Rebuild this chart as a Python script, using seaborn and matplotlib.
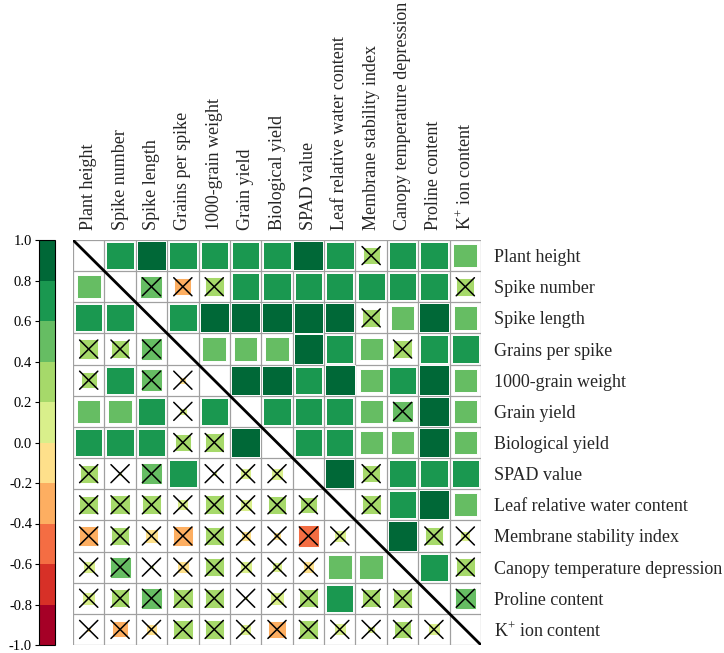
import numpy as np
import pandas as pd
import matplotlib
matplotlib.use("Agg")
import matplotlib.pyplot as plt
import seaborn as sns
from matplotlib.colors import ListedColormap, BoundaryNorm
from matplotlib.patches import Rectangle

# nomes das variáveis
labels = ["Plant height", "Spike number", "Spike length", "Grains per spike",
          "1000-grain weight", "Grain yield", "Biological yield", "SPAD value",
          "Leaf relative water content", "Membrane stability index",
          "Canopy temperature depression", "Proline content", "K$^{+}$ ion content"]

nan = np.nan
# correlações (linha = variável da esquerda/direita)
r0 = [nan, .76, .89, .77, .75, .76, .76, .90, .77, .30, .76, .75, .57]
r1 = [.57, nan, .49, -.29, .37, .75, .76, .76, .76, .74, .75, .76, .34]
r2 = [.76, .75, nan, .76, .88, .88, .88, .89, .88, .32, .56, .88, .56]
r3 = [.38, .36, .48, nan, .57, .55, .55, .88, .76, .53, .35, .77, .77]
r4 = [.25, .75, .48, -.05, nan, .88, .88, .76, .89, .55, .76, .89, .55]
r5 = [.56, .55, .76, .06, .76, nan, .76, .76, .76, .55, .48, .89, .55]
r6 = [.76, .76, .76, .28, .36, .89, nan, .76, .76, .55, .55, .89, .55]
r7 = [.33, .02, .46, .76, .03, .12, .15, nan, .88, .32, .76, .76, .76]
r8 = [.35, .38, .36, .12, .36, .15, .32, .28, nan, .36, .76, .88, .56]
r9 = [-.38, .34, -.18, -.39, .36, -.10, -.06, -.47, .15, nan, .88, .36, .10]
r10 = [.15, .45, .02, -.16, .36, .15, .10, -.14, .56, .56, nan, .76, .36]
r11 = [.18, .34, .47, .38, .36, .02, .18, .34, .75, .34, .38, nan, .46]
r12 = [-.02, -.26, -.12, .38, .38, .12, -.30, .34, .15, .06, .30, .15, nan]

# significância (0 = não significativo, marcado com X)
s0 = [0, 1, 1, 1, 1, 1, 1, 1, 1, 0, 1, 1, 1]
s1 = [1, 0, 0, 0, 0, 1, 1, 1, 1, 1, 1, 1, 0]
s2 = [1, 1, 0, 1, 1, 1, 1, 1, 1, 0, 1, 1, 1]
s3 = [0, 0, 0, 0, 1, 1, 1, 1, 1, 1, 0, 1, 1]
s4 = [0, 1, 0, 0, 0, 1, 1, 1, 1, 1, 1, 1, 1]
s5 = [1, 1, 1, 0, 1, 0, 1, 1, 1, 1, 0, 1, 1]
s6 = [1, 1, 1, 0, 0, 1, 0, 1, 1, 1, 1, 1, 1]
s7 = [0, 0, 0, 1, 0, 0, 0, 0, 1, 0, 1, 1, 1]
s8 = [0, 0, 0, 0, 0, 0, 0, 0, 0, 0, 1, 1, 1]
s9 = [0, 0, 0, 0, 0, 0, 0, 0, 0, 0, 1, 0, 0]
s10 = [0, 0, 0, 0, 0, 0, 0, 0, 1, 1, 0, 1, 0]
s11 = [0, 0, 0, 0, 0, 0, 0, 0, 1, 0, 0, 0, 0]
s12 = [0, 0, 0, 0, 0, 0, 0, 0, 0, 0, 0, 0, 0]

corr = pd.DataFrame([r0, r1, r2, r3, r4, r5, r6, r7, r8, r9, r10, r11, r12],
                    index=labels, columns=labels)
sig = np.array([s0, s1, s2, s3, s4, s5, s6, s7, s8, s9, s10, s11, s12])

sns.set_style("white")
plt.rcParams["font.family"] = ["Liberation Serif", "DejaVu Serif"]
plt.rcParams["mathtext.fontset"] = "custom"
plt.rcParams["mathtext.rm"] = "Liberation Serif"
plt.rcParams["axes.unicode_minus"] = False

cores = ["#a50026", "#d73027", "#f46d43", "#fdae61", "#fee08b",
         "#d9ef8b", "#a6d96a", "#66bd63", "#1a9850", "#006837"]
cmap = ListedColormap(cores)
norm = BoundaryNorm(np.linspace(-1, 1, 11), cmap.N)

W, H = 724, 653
fig = plt.figure(figsize=(W / 100, H / 100), dpi=100)
ax = fig.add_axes([73 / W, 1 - 645 / H, 408 / W, 405 / H])
cax = fig.add_axes([39 / W, 1 - 645 / H, 16 / W, 405 / H])

n = len(labels)
# heatmap só para eixos e barra de cores (células mascaradas)
sns.heatmap(corr, mask=np.ones((n, n), dtype=bool), cmap=cmap, norm=norm,
            vmin=-1, vmax=1, ax=ax, cbar_ax=cax, xticklabels=labels,
            yticklabels=labels)

# grade cinza
for k in range(n + 1):
    ax.axhline(k, color="#a0a0a0", lw=0.9, zorder=1)
    ax.axvline(k, color="#a0a0a0", lw=0.9, zorder=1)

# quadrados proporcionais a |r| (lado = sqrt|r|) e X para não significativos
vals = corr.values
for i in range(n):
    for j in range(n):
        v = vals[i, j]
        if np.isnan(v):
            continue
        lado = np.sqrt(abs(v))
        ax.add_patch(Rectangle((j + 0.5 - lado / 2, i + 0.5 - lado / 2), lado, lado,
                               facecolor=cmap(norm(v)), edgecolor="white",
                               lw=0.7, zorder=2))
        if not sig[i, j]:
            d = 0.29
            ax.plot([j + 0.5 - d, j + 0.5 + d], [i + 0.5 - d, i + 0.5 + d],
                    color="black", lw=1.1, zorder=3)
            ax.plot([j + 0.5 - d, j + 0.5 + d], [i + 0.5 + d, i + 0.5 - d],
                    color="black", lw=1.1, zorder=3)

# diagonal
ax.plot([0, n], [0, n], color="black", lw=2, zorder=4, solid_capstyle="butt")
ax.set_xlim(0, n)
ax.set_ylim(n, 0)

ax.xaxis.tick_top()
ax.yaxis.tick_right()
ax.tick_params(axis="x", length=0, pad=7, labelsize=13, rotation=90)
ax.tick_params(axis="y", length=0, pad=9, labelsize=13, rotation=0)
for lab in ax.get_yticklabels():
    lab.set_ha("left")
for s in ax.spines.values():
    s.set_visible(False)

# barra de cores
cax.yaxis.set_ticks_position("left")
cax.set_yticks(np.round(np.linspace(-1, 1, 11), 1))
cax.set_yticklabels([f"{t:.1f}" for t in np.linspace(-1, 1, 11)])
cax.tick_params(axis="y", length=3, width=0.8, pad=2, labelsize=10.5, colors="black")
cb = ax.collections[0].colorbar
cb.outline.set_edgecolor("black")
cb.outline.set_linewidth(0.8)

fig.savefig("out.png", dpi=100)
